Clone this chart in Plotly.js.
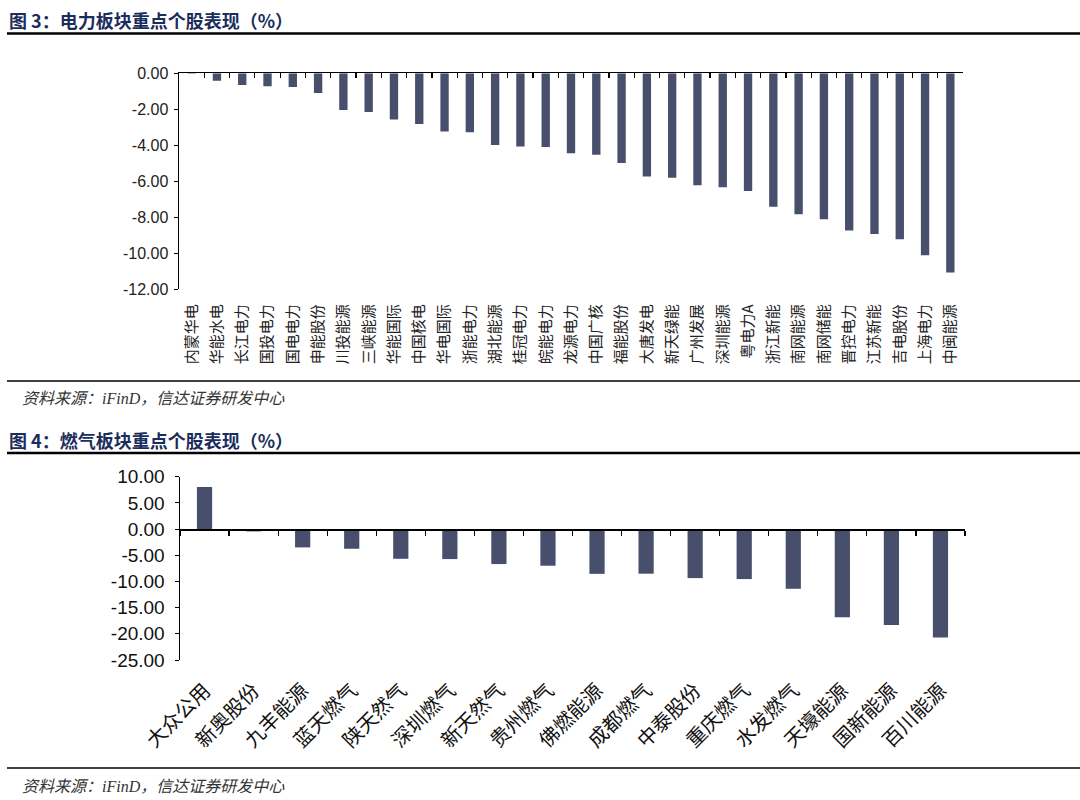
<!DOCTYPE html>
<html>
<head>
<meta charset="utf-8">
<script src="https://cdn.plot.ly/plotly-3.0.1.min.js"></script>
<style>html,body{margin:0;padding:0;background:#fff;}#chart{width:1080px;height:800px;}</style>
</head>
<body>
<div id="chart"></div>
<script>
// ---- Data ----
var powerNames = ['内蒙华电','华能水电','长江电力','国投电力','国电电力','申能股份','川投能源','三峡能源','华能国际','中国核电','华电国际','浙能电力','湖北能源','桂冠电力','皖能电力','龙源电力','中国广核','福能股份','大唐发电','新天绿能','广州发展','深圳能源','粤电力A','浙江新能','南网能源','南网储能','晋控电力','江苏新能','吉电股份','上海电力','中闽能源'];
var powerValues = [-0.02,-0.41,-0.65,-0.72,-0.76,-1.09,-2.04,-2.15,-2.56,-2.82,-3.24,-3.28,-3.98,-4.06,-4.09,-4.44,-4.52,-4.98,-5.74,-5.80,-6.22,-6.33,-6.54,-7.41,-7.83,-8.11,-8.74,-8.93,-9.22,-10.11,-11.06];
var powerYTicks = [0,-2,-4,-6,-8,-10,-12];
var powerYTickText = ['0.00','-2.00','-4.00','-6.00','-8.00','-10.00','-12.00'];

var gasNames = ['大众公用','新奥股份','九丰能源','蓝天燃气','陕天然气','深圳燃气','新天然气','贵州燃气','佛燃能源','成都燃气','中泰股份','重庆燃气','水发燃气','天壕能源','国新能源','百川能源'];
var gasValues = [8.02,-0.45,-3.50,-3.76,-5.67,-5.73,-6.68,-7.00,-8.55,-8.52,-9.36,-9.55,-11.40,-16.86,-18.30,-20.70];
var gasYTicks = [10,5,0,-5,-10,-15,-20,-25];
var gasYTickText = ['10.00','5.00','0.00','-5.00','-10.00','-15.00','-20.00','-25.00'];

var title3 = '图 3：电力板块重点个股表现（%）';
var title4 = '图 4：燃气板块重点个股表现（%）';
var sourceText = '资料来源：iFinD，信达证券研发中心';

// ---- Styles ----
var W = 1080, H = 800;
var barColor = '#474f6c';
var numFont = 'Liberation Sans, Arial, Noto Sans CJK SC, sans-serif';
var cjkFont = 'Noto Sans CJK SC, sans-serif';
function px(x){ return x / W; }
function py(y){ return 1 - y / H; }

var topDomX = [px(179), px(963)];
var topDomY = [py(289.3), py(73.3)];
var botDomX = [px(180), px(965)];
var botDomY = [py(660), py(476.7)];
var gasRange = [-25, 10];
var zeroPos = botDomY[0] + (0 - gasRange[0]) / (gasRange[1] - gasRange[0]) * (botDomY[1] - botDomY[0]);

var traces = [
  {type:'bar', x: powerNames, y: powerValues, xaxis:'x', yaxis:'y', width:0.33,
   marker:{color: barColor, line:{width:0}}, hoverinfo:'x+y', showlegend:false},
  {type:'scatter', mode:'markers', x: powerNames, y: powerValues, xaxis:'x2', yaxis:'y',
   marker:{opacity:0}, hoverinfo:'skip', showlegend:false},
  {type:'bar', x: gasNames, y: gasValues, xaxis:'x3', yaxis:'y2', width:0.31,
   marker:{color: barColor, line:{width:0}}, hoverinfo:'x+y', showlegend:false},
  {type:'scatter', mode:'markers', x: gasNames, y: gasValues, xaxis:'x4', yaxis:'y2',
   marker:{opacity:0}, hoverinfo:'skip', showlegend:false}
];

var nP = powerNames.length, nG = gasNames.length;

var layout = {
  width: W, height: H,
  margin: {l:0, r:0, t:0, b:0},
  paper_bgcolor: '#fff', plot_bgcolor: 'rgba(0,0,0,0)',
  showlegend: false,
  xaxis: {domain: topDomX, anchor:'y', type:'category', range:[-0.5, nP-0.5],
    showline:false, showgrid:false, zeroline:false, ticks:'outside', ticklen:8, tickcolor:'rgba(0,0,0,0)',
    tickangle:-90, tickfont:{family: cjkFont, size:15, color:'#222'}, fixedrange:true},
  xaxis2: {overlaying:'x', anchor:'y', side:'top', type:'category', range:[-0.5, nP-0.5],
    showline:true, linecolor:'#000', linewidth:1.5, ticks:'inside', tickson:'boundaries',
    ticklen:5, tickwidth:1.2, tickcolor:'#000', showticklabels:false, showgrid:false, zeroline:false},
  yaxis: {domain: topDomY, anchor:'x', range:[-12, 0], tickvals: powerYTicks, ticktext: powerYTickText,
    showline:true, linecolor:'#000', linewidth:1.5, ticks:'outside', ticklen:4, tickcolor:'#000',
    ticklabelstandoff:2,
    showgrid:false, zeroline:false, tickfont:{family:numFont, size:16, color:'#222'}},
  xaxis3: {domain: botDomX, anchor:'y2', type:'category', range:[-0.5, nG-0.5],
    showline:false, showgrid:false, zeroline:false, ticks:'outside', ticklen:10, tickcolor:'rgba(0,0,0,0)',
    tickangle:-45, tickfont:{family: cjkFont, size:20, color:'#111'}},
  xaxis4: {overlaying:'x3', anchor:'free', position: zeroPos, side:'bottom', type:'category', range:[-0.5, nG-0.5],
    showline:true, linecolor:'#000', linewidth:1.5, ticks:'outside', tickson:'boundaries',
    ticklen:5, tickwidth:1.2, tickcolor:'#000', showticklabels:false, showgrid:false, zeroline:false},
  yaxis2: {domain: botDomY, anchor:'x3', range: gasRange, tickvals: gasYTicks, ticktext: gasYTickText,
    showline:true, linecolor:'#000', linewidth:1.5, ticks:'outside', ticklen:4, tickcolor:'#000',
    ticklabelstandoff:6,
    showgrid:false, zeroline:false, tickfont:{family:numFont, size:19, color:'#111'}},
  shapes: [
    {type:'line', xref:'paper', yref:'paper', x0:px(7), x1:1, y0:py(33.5), y1:py(33.5), line:{color:'#000', width:2.5}},
    {type:'line', xref:'paper', yref:'paper', x0:px(7), x1:1, y0:py(381), y1:py(381), line:{color:'#000', width:1.5}},
    {type:'line', xref:'paper', yref:'paper', x0:px(7), x1:1, y0:py(453), y1:py(453), line:{color:'#000', width:2.5}},
    {type:'line', xref:'paper', yref:'paper', x0:px(7), x1:1, y0:py(768), y1:py(768), line:{color:'#000', width:1.5}}
  ],
  annotations: [
    {text: '<b>'+title3+'</b>', xref:'paper', yref:'paper', x:px(7), y:py(20), xanchor:'left', yanchor:'middle',
     showarrow:false, font:{family: cjkFont, size:18, color:'#1b2d5c'}},
    {text: sourceText, xref:'paper', yref:'paper', x:px(20), y:py(398), xanchor:'left', yanchor:'middle',
     showarrow:false, font:{family: 'Liberation Serif, Noto Sans CJK SC, serif', size:16, color:'#333', style:'italic'}},
    {text: '<b>'+title4+'</b>', xref:'paper', yref:'paper', x:px(7), y:py(440), xanchor:'left', yanchor:'middle',
     showarrow:false, font:{family: cjkFont, size:18, color:'#1b2d5c'}},
    {text: sourceText, xref:'paper', yref:'paper', x:px(20), y:py(786), xanchor:'left', yanchor:'middle',
     showarrow:false, font:{family: 'Liberation Serif, Noto Sans CJK SC, serif', size:16, color:'#333', style:'italic'}}
  ]
};

Plotly.newPlot('chart', traces, layout, {displayModeBar:false, staticPlot:true});
</script>
</body>
</html>
